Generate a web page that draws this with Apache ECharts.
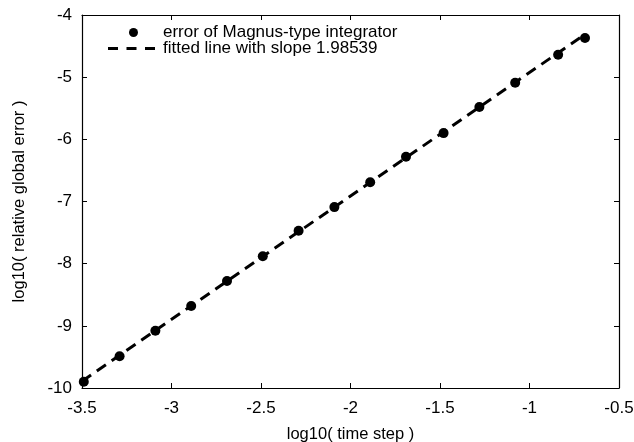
<!DOCTYPE html>
<html>
<head>
<meta charset="utf-8">
<script src="https://cdn.jsdelivr.net/npm/echarts@6/dist/echarts.min.js"></script>
<style>
html, body { margin: 0; padding: 0; background: #fff; }
#main { width: 634px; height: 442px; }
</style>
</head>
<body>
<div id="main"></div>
<script>
// log10(time step) and log10(relative global error)
var stepLog = [-3.49, -3.29, -3.09, -2.89, -2.69, -2.49, -2.29, -2.09, -1.89, -1.69, -1.48, -1.28, -1.08, -0.84, -0.69];
var errLog = [-9.90, -9.49, -9.08, -8.68, -8.28, -7.88, -7.47, -7.09, -6.69, -6.28, -5.90, -5.48, -5.09, -4.64, -4.37];
// fitted line end points (slope 1.98539)
var fitX = [-3.5, -0.69];
var fitY = [-9.89, -4.31];

var xTicks = ['-3.5', '-3', '-2.5', '-2', '-1.5', '-1', '-0.5'];
var yTicks = ['-10', '-9', '-8', '-7', '-6', '-5', '-4'];

var font = 'Liberation Sans, Arial, Helvetica, sans-serif';

function pairs(xs, ys) {
    var out = [];
    for (var i = 0; i < xs.length; i++) out.push([xs[i], ys[i]]);
    return out;
}

var myChart = echarts.init(document.getElementById('main'));

var baseX = {
    type: 'value', min: -3.5, max: -0.5, interval: 0.5,
    axisLine: {onZero: false, lineStyle: {color: '#000', width: 1.2}},
    axisTick: {inside: true, length: 5, lineStyle: {color: '#000'}},
    splitLine: {show: false}
};
var baseY = {
    type: 'value', min: -10, max: -4, interval: 1,
    axisLine: {onZero: false, lineStyle: {color: '#000', width: 1.2}},
    axisTick: {inside: true, length: 5, lineStyle: {color: '#000'}},
    splitLine: {show: false}
};

var option = {
    animation: false,
    backgroundColor: '#fff',
    textStyle: {fontFamily: font, color: '#000'},
    grid: {left: 82, right: 15, top: 15, bottom: 54, outerBoundsMode: 'none', containLabel: false},
    legend: [
        {
            left: 124, top: 19,
            itemWidth: 9, itemHeight: 9, itemGap: 0,
            textStyle: {fontFamily: font, fontSize: 17, color: '#000', padding: [0, 0, 0, 20]},
            data: [{name: 'error of Magnus-type integrator', icon: 'circle'}]
        },
        {
            left: 103, top: 35,
            itemWidth: 47, itemHeight: 9, itemGap: 0,
            itemStyle: {borderWidth: 0},
            lineStyle: {width: 0},
            textStyle: {fontFamily: font, fontSize: 17, color: '#000', padding: [0, 0, 0, 3]},
            data: [{
                name: 'fitted line with slope 1.98539',
                icon: 'path://M0,0h10v3h-10z M18.5,0h10v3h-10z M37,0h10v3h-10z',
                itemStyle: {color: '#000', borderWidth: 0},
                lineStyle: {width: 0}
            }]
        }
    ],
    xAxis: [
        Object.assign({}, baseX, {
            position: 'bottom',
            name: 'log10( time step )',
            nameLocation: 'middle',
            nameGap: 38,
            nameTextStyle: {fontFamily: font, fontSize: 16.5, color: '#000'},
            axisLabel: {
                color: '#000', fontFamily: font, fontSize: 17, margin: 12,
                formatter: function (v) { return xTicks[Math.round((v + 3.5) / 0.5)]; }
            }
        }),
        Object.assign({}, baseX, {position: 'top', axisLabel: {show: false}})
    ],
    yAxis: [
        Object.assign({}, baseY, {
            position: 'left',
            name: 'log10( relative global error )',
            nameLocation: 'middle',
            nameGap: 54,
            nameTextStyle: {fontFamily: font, fontSize: 16.5, color: '#000'},
            axisLabel: {
                color: '#000', fontFamily: font, fontSize: 17, margin: 10,
                formatter: function (v) { return yTicks[Math.round(v + 10)]; }
            }
        }),
        Object.assign({}, baseY, {position: 'right', axisLabel: {show: false}})
    ],
    series: [
        {
            name: 'fitted line with slope 1.98539',
            type: 'line',
            data: pairs(fitX, fitY),
            symbol: 'none',
            lineStyle: {color: '#000', width: 3, type: [11, 7]},
            itemStyle: {color: '#000'},
            z: 2
        },
        {
            name: 'error of Magnus-type integrator',
            type: 'scatter',
            data: pairs(stepLog, errLog),
            symbol: 'circle',
            symbolSize: 10,
            itemStyle: {color: '#000', opacity: 1},
            z: 3
        }
    ]
};
myChart.setOption(option);
</script>
</body>
</html>
